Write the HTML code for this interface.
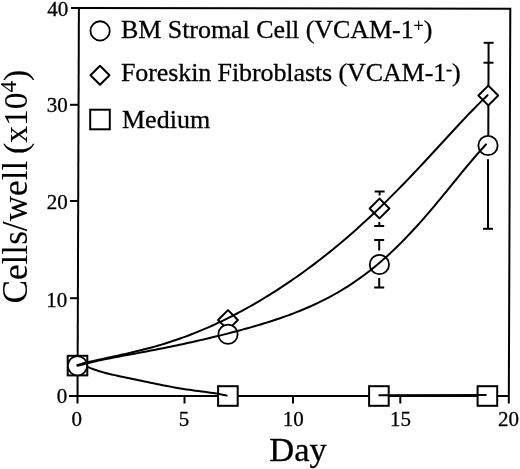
<!DOCTYPE html>
<html><head><meta charset="utf-8"><style>
html,body{margin:0;padding:0;background:#fff;}
body{width:520px;height:469px;overflow:hidden;position:relative;font-family:"Liberation Serif",serif;color:#000;}
svg{position:absolute;left:0;top:0;filter:grayscale(1);}
text{stroke:#000;stroke-width:0.3px;}

</style></head><body>
<svg width="520" height="469" viewBox="0 0 520 469">
<path d="M71,8 L78.9,8 L510.3,8.7 L508.8,403.5" fill="none" stroke="#000" stroke-width="2.0"/>
<line x1="78.9" y1="7" x2="77.5" y2="403.5" stroke="#000" stroke-width="2.0"/>
<line x1="69" y1="395.9" x2="509" y2="395.9" stroke="#000" stroke-width="2.0"/>
<line x1="70" y1="298.2" x2="78.5" y2="298.2" stroke="#000" stroke-width="2.0"/>
<line x1="70" y1="201" x2="78.5" y2="201" stroke="#000" stroke-width="2.0"/>
<line x1="70" y1="104.8" x2="78.5" y2="104.8" stroke="#000" stroke-width="2.0"/>
<line x1="184.5" y1="396" x2="184.5" y2="403.5" stroke="#000" stroke-width="2.0"/>
<line x1="293" y1="396" x2="293" y2="403.5" stroke="#000" stroke-width="2.0"/>
<line x1="400.3" y1="396" x2="400.3" y2="403.5" stroke="#000" stroke-width="2.0"/>
<line x1="488.6" y1="42.8" x2="488.3" y2="135" stroke="#000" stroke-width="2.0"/>
<line x1="483.6" y1="42.8" x2="493.6" y2="42.8" stroke="#000" stroke-width="2.0"/>
<line x1="483.5" y1="62.7" x2="493.5" y2="62.7" stroke="#000" stroke-width="2.0"/>
<line x1="488" y1="159.3" x2="488" y2="228.8" stroke="#000" stroke-width="2.0"/>
<line x1="483" y1="228.8" x2="493" y2="228.8" stroke="#000" stroke-width="2.0"/>
<line x1="379.6" y1="191.5" x2="379.6" y2="195.5" stroke="#000" stroke-width="2.0"/>
<line x1="374.6" y1="191.5" x2="384.6" y2="191.5" stroke="#000" stroke-width="2.0"/>
<line x1="379.3" y1="222" x2="379.3" y2="226" stroke="#000" stroke-width="2.0"/>
<line x1="374.2" y1="226" x2="384.2" y2="226" stroke="#000" stroke-width="2.0"/>
<line x1="379.2" y1="240" x2="379.2" y2="250.5" stroke="#000" stroke-width="2.0"/>
<line x1="374.2" y1="240" x2="384.2" y2="240" stroke="#000" stroke-width="2.0"/>
<line x1="379.2" y1="278" x2="379.2" y2="287.5" stroke="#000" stroke-width="2.0"/>
<line x1="374.2" y1="287.5" x2="384.2" y2="287.5" stroke="#000" stroke-width="2.0"/>
<rect x="67.7" y="355.8" width="19.6" height="19.6" fill="#fff" stroke="#000" stroke-width="2.0"/>
<rect x="218.1" y="386.2" width="19.6" height="19.6" fill="#fff" stroke="#000" stroke-width="2.0"/>
<rect x="369.09999999999997" y="386.2" width="19.6" height="19.6" fill="#fff" stroke="#000" stroke-width="2.0"/>
<rect x="477.59999999999997" y="386.2" width="19.6" height="19.6" fill="#fff" stroke="#000" stroke-width="2.0"/>
<path d="M228,310.1 L237.9,320 L228,329.9 L218.1,320 Z" fill="#fff" stroke="#000" stroke-width="2.0" stroke-linejoin="round"/>
<path d="M379.5,198.6 L389.4,208.5 L379.5,218.4 L369.6,208.5 Z" fill="#fff" stroke="#000" stroke-width="2.0" stroke-linejoin="round"/>
<path d="M488.3,85.6 L498.2,95.5 L488.3,105.4 L478.40000000000003,95.5 Z" fill="#fff" stroke="#000" stroke-width="2.0" stroke-linejoin="round"/>
<circle cx="77.5" cy="365.8" r="9.65" fill="#fff" stroke="#000" stroke-width="1.8"/>
<circle cx="228" cy="334.3" r="9.65" fill="#fff" stroke="#000" stroke-width="1.8"/>
<circle cx="379.4" cy="264.5" r="9.65" fill="#fff" stroke="#000" stroke-width="1.8"/>
<circle cx="488" cy="145.5" r="9.65" fill="#fff" stroke="#000" stroke-width="1.8"/>
<path d="M77.50,364.91 L80.50,364.10 L83.50,363.32 L86.50,362.57 L89.50,361.84 L92.50,361.14 L95.50,360.45 L98.50,359.78 L101.50,359.12 L104.50,358.47 L107.50,357.82 L110.50,357.17 L113.50,356.52 L116.50,355.87 L119.50,355.22 L122.50,354.56 L125.50,353.89 L128.50,353.20 L131.50,352.51 L134.50,351.80 L137.50,351.08 L140.50,350.34 L143.50,349.58 L146.50,348.80 L149.50,348.00 L152.50,347.18 L155.50,346.34 L158.50,345.47 L161.50,344.59 L164.50,343.67 L167.50,342.74 L170.50,341.77 L173.50,340.78 L176.50,339.77 L179.50,338.73 L182.50,337.66 L185.50,336.57 L188.50,335.44 L191.50,334.30 L194.50,333.12 L197.50,331.91 L200.50,330.68 L203.50,329.42 L206.50,328.14 L209.50,326.82 L212.50,325.48 L215.50,324.11 L218.50,322.71 L221.50,321.29 L224.50,319.84 L227.50,318.36 L230.50,316.85 L233.50,315.32 L236.50,313.76 L239.50,312.17 L242.50,310.56 L245.50,308.92 L248.50,307.25 L251.50,305.55 L254.50,303.83 L257.50,302.08 L260.50,300.31 L263.50,298.51 L266.50,296.68 L269.50,294.83 L272.50,292.95 L275.50,291.04 L278.50,289.11 L281.50,287.15 L284.50,285.17 L287.50,283.15 L290.50,281.11 L293.50,279.05 L296.50,276.95 L299.50,274.83 L302.50,272.69 L305.50,270.51 L308.50,268.31 L311.50,266.08 L314.50,263.83 L317.50,261.54 L320.50,259.23 L323.50,256.89 L326.50,254.52 L329.50,252.12 L332.50,249.70 L335.50,247.24 L338.50,244.76 L341.50,242.25 L344.50,239.71 L347.50,237.14 L350.50,234.54 L353.50,231.91 L356.50,229.25 L359.50,226.57 L362.50,223.85 L365.50,221.11 L368.50,218.34 L371.50,215.54 L374.50,212.71 L377.50,209.85 L380.50,206.97 L383.50,204.05 L386.50,201.11 L389.50,198.15 L392.50,195.15 L395.50,192.14 L398.50,189.09 L401.50,186.03 L404.50,182.94 L407.50,179.83 L410.50,176.69 L413.50,173.54 L416.50,170.37 L419.50,167.18 L422.50,163.98 L425.50,160.76 L428.50,157.53 L431.50,154.28 L434.50,151.03 L437.50,147.78 L440.50,144.52 L443.50,141.25 L446.50,137.99 L449.50,134.73 L452.50,131.48 L455.50,128.24 L458.50,125.01 L461.50,121.79 L464.50,118.60 L467.50,115.43 L470.50,112.29 L473.50,109.19 L476.50,106.11 L479.50,103.09 L482.50,100.11 L485.50,97.18 L487.50,95.26" fill="none" stroke="#000" stroke-width="2.0" stroke-linecap="round" stroke-linejoin="round"/>
<path d="M77.50,365.84 L80.50,364.99 L83.50,364.17 L86.50,363.40 L89.50,362.66 L92.50,361.95 L95.50,361.27 L98.50,360.61 L101.50,359.98 L104.50,359.36 L107.50,358.76 L110.50,358.17 L113.50,357.59 L116.50,357.02 L119.50,356.45 L122.50,355.89 L125.50,355.33 L128.50,354.78 L131.50,354.22 L134.50,353.67 L137.50,353.11 L140.50,352.55 L143.50,351.99 L146.50,351.42 L149.50,350.85 L152.50,350.27 L155.50,349.69 L158.50,349.10 L161.50,348.51 L164.50,347.91 L167.50,347.30 L170.50,346.68 L173.50,346.06 L176.50,345.43 L179.50,344.80 L182.50,344.16 L185.50,343.50 L188.50,342.85 L191.50,342.18 L194.50,341.51 L197.50,340.83 L200.50,340.14 L203.50,339.45 L206.50,338.74 L209.50,338.03 L212.50,337.31 L215.50,336.59 L218.50,335.85 L221.50,335.11 L224.50,334.36 L227.50,333.60 L230.50,332.83 L233.50,332.05 L236.50,331.26 L239.50,330.45 L242.50,329.64 L245.50,328.82 L248.50,327.98 L251.50,327.13 L254.50,326.27 L257.50,325.39 L260.50,324.49 L263.50,323.58 L266.50,322.65 L269.50,321.71 L272.50,320.74 L275.50,319.76 L278.50,318.75 L281.50,317.72 L284.50,316.67 L287.50,315.59 L290.50,314.48 L293.50,313.35 L296.50,312.19 L299.50,310.99 L302.50,309.77 L305.50,308.51 L308.50,307.21 L311.50,305.88 L314.50,304.52 L317.50,303.11 L320.50,301.66 L323.50,300.17 L326.50,298.64 L329.50,297.06 L332.50,295.43 L335.50,293.75 L338.50,292.03 L341.50,290.25 L344.50,288.42 L347.50,286.54 L350.50,284.60 L353.50,282.61 L356.50,280.55 L359.50,278.44 L362.50,276.27 L365.50,274.04 L368.50,271.75 L371.50,269.39 L374.50,266.97 L377.50,264.49 L380.50,261.94 L383.50,259.34 L386.50,256.66 L389.50,253.92 L392.50,251.12 L395.50,248.26 L398.50,245.33 L401.50,242.34 L404.50,239.29 L407.50,236.18 L410.50,233.01 L413.50,229.79 L416.50,226.51 L419.50,223.17 L422.50,219.79 L425.50,216.36 L428.50,212.88 L431.50,209.37 L434.50,205.81 L437.50,202.22 L440.50,198.61 L443.50,194.96 L446.50,191.30 L449.50,187.63 L452.50,183.94 L455.50,180.25 L458.50,176.57 L461.50,172.90 L464.50,169.25 L467.50,165.63 L470.50,162.04 L473.50,158.50 L476.50,155.01 L479.50,151.58 L482.50,148.23 L485.50,144.97 L486.00,144.43" fill="none" stroke="#000" stroke-width="2.0" stroke-linecap="round" stroke-linejoin="round"/>
<path d="M87.50,366.83 L90.50,368.11 L93.50,369.26 L96.50,370.30 L99.50,371.25 L102.50,372.12 L105.50,372.93 L108.50,373.69 L111.50,374.41 L114.50,375.10 L117.50,375.77 L120.50,376.41 L123.50,377.05 L126.50,377.68 L129.50,378.31 L132.50,378.94 L135.50,379.56 L138.50,380.19 L141.50,380.82 L144.50,381.45 L147.50,382.08 L150.50,382.71 L153.50,383.33 L156.50,383.95 L159.50,384.56 L162.50,385.16 L165.50,385.75 L168.50,386.33 L171.50,386.88 L174.50,387.43 L177.50,387.95 L180.50,388.45 L183.50,388.94 L186.50,389.40 L189.50,389.84 L192.50,390.27 L195.50,390.68 L198.50,391.08 L201.50,391.47 L204.50,391.86 L207.50,392.26 L210.50,392.67 L213.50,393.10 L216.50,393.57 L219.50,394.08 L222.50,394.65 L225.50,395.29 L226.80,395.60" fill="none" stroke="#000" stroke-width="2.0" stroke-linecap="round" stroke-linejoin="round"/>
<line x1="378.5" y1="395.2" x2="486.5" y2="395.0" stroke="#000" stroke-width="2.0"/>
<circle cx="100.1" cy="30.9" r="9.65" fill="#fff" stroke="#000" stroke-width="1.8"/>
<path d="M100,65.8 L109.5,75.3 L100,84.8 L90.5,75.3 Z" fill="#fff" stroke="#000" stroke-width="2.0" stroke-linejoin="round"/>
<rect x="90.2" y="109.7" width="19.6" height="19.6" fill="#fff" stroke="#000" stroke-width="2.0"/>
<g font-family="Liberation Serif" font-size="21" text-anchor="end" transform="translate(0.8,0.6)">
<text x="67.5" y="15.6">40</text>
<text x="67" y="111.6">30</text>
<text x="67" y="208.4">20</text>
<text x="66.5" y="306">10</text>
<text x="66.5" y="402">0</text>
</g>
<g font-family="Liberation Serif" font-size="21" text-anchor="middle">
<text x="76.8" y="425.6">0</text>
<text x="184" y="425.6">5</text>
<text x="293.2" y="425.6">10</text>
<text x="400.5" y="425.6">15</text>
<text x="508.4" y="425.6">20</text>
</g>
<text x="298" y="461" font-family="Liberation Serif" font-size="34.5" text-anchor="middle">Day</text>
<g font-family="Liberation Serif" font-size="26">
<text x="121" y="37.6" letter-spacing="-0.06">BM Stromal Cell (VCAM-1<tspan font-size="18" dy="-5.5">+</tspan><tspan dy="5.5">)</tspan></text>
<text x="121" y="81" letter-spacing="-0.1">Foreskin Fibroblasts (VCAM-1<tspan font-size="18" dy="-6.5">-</tspan><tspan dy="6.5">)</tspan></text>
<text x="122" y="128">Medium</text>
</g>
<text style="stroke-width:0.1px" transform="translate(27.3,303.6) rotate(-90)" font-family="Liberation Serif" font-size="35.25">Cells/well</text>
<text style="stroke-width:0.1px" transform="translate(27.3,154) rotate(-90)" font-family="Liberation Serif" font-size="33.6">(x10<tspan font-size="23" dy="-11">4</tspan><tspan dy="11">)</tspan></text>
</svg>
</body></html>
